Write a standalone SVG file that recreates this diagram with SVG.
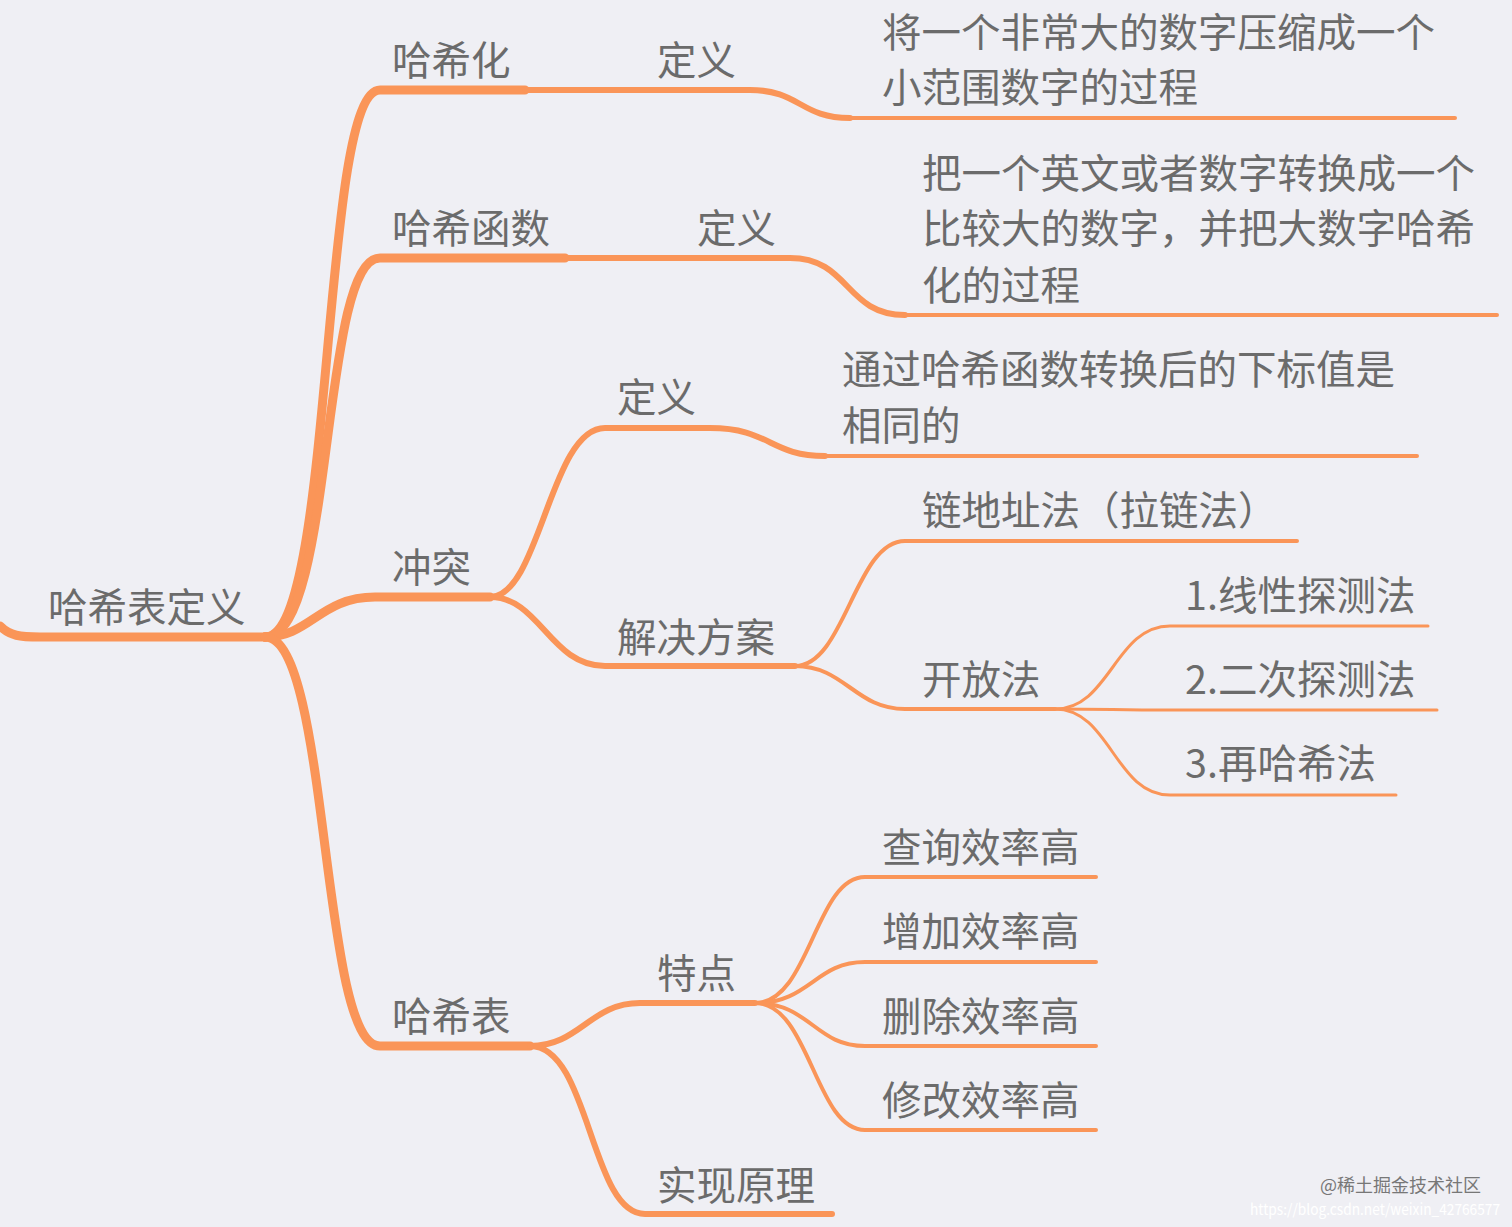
<svg xmlns="http://www.w3.org/2000/svg" width="1512" height="1227" viewBox="0 0 1512 1227">
<style>
text{font-family:"Noto Sans CJK SC","Liberation Sans",sans-serif;font-size:39.5px;fill:#6b6b6b}
.c path{fill:none;stroke:#fa9558;stroke-linecap:round}
.w1{stroke-width:9}.w2{stroke-width:6}.w3{stroke-width:4}.w4{stroke-width:3}
</style>
<rect width="1512" height="1227" fill="#efeff4"/>
<g class="c" id="connectors">
<path class="w1" d="M0,626 C10,636 20,637 40,637 L265,637"/>
<path class="w1" d="M265,637 C335,637 320,90 380,90 L525,90"/>
<path class="w1" d="M265,637 C335,637 320,258 380,258 L565,258"/>
<path class="w1" d="M265,637 C310,637 320,597 375,597 L490,597"/>
<path class="w1" d="M265,637 C330,637 320,1046 380,1046 L530,1046"/>
<path class="w2" d="M525,90 L750,90 C800,90 800,118 850,118"/>
<path class="w3" d="M850,118 L1455,118"/>
<path class="w2" d="M565,258 L790,258 C850,258 845,315 905,315"/>
<path class="w3" d="M905,315 L1497,315"/>
<path class="w2" d="M490,597 C540,597 550,428 605,428 L710,428 C770,428 770,456 825,456"/>
<path class="w3" d="M825,456 L1417,456"/>
<path class="w2" d="M490,597 C540,597 550,666 605,666 L795,666"/>
<path class="w3" d="M795,666 C845,666 855,541 905,541 L1297,541"/>
<path class="w3" d="M795,666 C845,666 855,709 905,709 L1055,709"/>
<path class="w4" d="M1055,709 C1110,709 1115,626 1170,626 L1428,626"/>
<path class="w4" d="M1055,709 C1110,709 1115,710 1170,710 L1437,710"/>
<path class="w4" d="M1055,709 C1110,709 1115,795 1170,795 L1396,795"/>
<path class="w2" d="M530,1046 C580,1046 590,1003 640,1003 L755,1003"/>
<path class="w2" d="M530,1046 C590,1046 590,1214 645,1214 L832,1214"/>
<path class="w3" d="M755,1003 C810,1003 815,877 865,877 L1096,877"/>
<path class="w3" d="M755,1003 C810,1003 815,962 865,962 L1096,962"/>
<path class="w3" d="M755,1003 C810,1003 815,1046 865,1046 L1096,1046"/>
<path class="w3" d="M755,1003 C810,1003 815,1130 865,1130 L1096,1130"/>
</g>
<g id="root"><text x="48" y="622">哈希表定义</text></g>
<g id="n1"><text x="392" y="75">哈希化</text></g>
<g id="n1a"><text x="657" y="75">定义</text></g>
<g id="n1b"><text x="882" y="47">将一个非常大的数字压缩成一个</text><text x="882" y="102">小范围数字的过程</text></g>
<g id="n2"><text x="392" y="243">哈希函数</text></g>
<g id="n2a"><text x="697" y="243">定义</text></g>
<g id="n2b"><text x="922" y="188">把一个英文或者数字转换成一个</text><text x="922" y="243">比较大的数字，并把大数字哈希</text><text x="922" y="300">化的过程</text></g>
<g id="n3"><text x="392" y="582">冲突</text></g>
<g id="n3a"><text x="617" y="412">定义</text></g>
<g id="n3b"><text x="842" y="384">通过哈希函数转换后的下标值是</text><text x="842" y="440">相同的</text></g>
<g id="n3c"><text x="617" y="652">解决方案</text></g>
<g id="n3d"><text x="922" y="525">链地址法（拉链法）</text></g>
<g id="n3e"><text x="922" y="694">开放法</text></g>
<g id="n3f"><text x="1185" y="610">1.线性探测法</text></g>
<g id="n3g"><text x="1185" y="694">2.二次探测法</text></g>
<g id="n3h"><text x="1185" y="778">3.再哈希法</text></g>
<g id="n4"><text x="392" y="1031">哈希表</text></g>
<g id="n4a"><text x="657" y="988">特点</text></g>
<g id="n4b"><text x="882" y="862">查询效率高</text></g>
<g id="n4c"><text x="882" y="946">增加效率高</text></g>
<g id="n4d"><text x="882" y="1031">删除效率高</text></g>
<g id="n4e"><text x="882" y="1115">修改效率高</text></g>
<g id="n4f"><text x="657" y="1200">实现原理</text></g>
<text x="1320" y="1192" style="font-size:18px;fill:#777">@稀土掘金技术社区</text>
<text x="1250" y="1215" textLength="250" lengthAdjust="spacingAndGlyphs" style="font-size:15px;fill:#ffffff">https://blog.csdn.net/weixin_42766577</text>
</svg>
